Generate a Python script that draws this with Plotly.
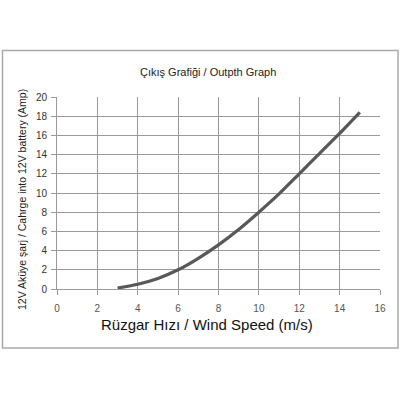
import plotly.graph_objects as go

wind_speed = [3, 4, 5, 6, 7, 8, 9, 10, 11, 12, 13, 14, 15]
current_amp = [0.1, 0.5, 1.1, 2.0, 3.2, 4.6, 6.2, 8.0, 9.9, 12.0, 14.1, 16.2, 18.4]

title_text = "Çıkış Grafiği / Outpth Graph"
x_title = "Rüzgar Hızı / Wind Speed (m/s)"
y_title = "12V Aküye şarj / Cahrge into 12V battery (Amp)"

font_family = "Liberation Sans, Arial, sans-serif"
grid = "#9a9a9a"

fig = go.Figure()
fig.add_trace(go.Scatter(
    x=wind_speed, y=current_amp, mode="lines",
    line=dict(color="#585858", width=3.2, shape="spline", smoothing=0.6),
    showlegend=False, hoverinfo="skip",
))

L, R, T, B = 57, 20, 97, 111
W = H = 400
pw, ph = W - L - R, H - T - B

def px(xp):
    return (xp - L) / pw

def py(yp):
    return (H - B - yp) / ph

fig.update_layout(
    width=W, height=H,
    margin=dict(l=L, r=R, t=T, b=B),
    paper_bgcolor="white", plot_bgcolor="white",
    font=dict(family=font_family, color="#333"),
    xaxis=dict(
        range=[0, 16], dtick=2, tick0=0, showgrid=True, gridcolor=grid, gridwidth=1,
        zeroline=False, showline=True, linecolor=grid, linewidth=1, mirror=False,
        ticks="outside", ticklen=5, tickcolor=grid,
        tickfont=dict(size=10, color="#555"), ticklabelstandoff=5,
    ),
    yaxis=dict(
        range=[0, 20], dtick=2, tick0=0, showgrid=True, gridcolor=grid, gridwidth=1,
        zeroline=False, showline=True, linecolor=grid, linewidth=1,
        ticks="outside", ticklen=5, tickcolor=grid,
        tickfont=dict(size=10, color="#333"), ticklabelstandoff=2,
    ),
    shapes=[
        dict(type="rect", xref="paper", yref="paper",
             x0=px(2.5), x1=px(398), y0=py(348), y1=py(50.5),
             line=dict(color="#aaaaaa", width=1.5), fillcolor="rgba(0,0,0,0)", layer="below"),
    ],
    annotations=[
        dict(text=title_text, xref="paper", yref="paper", x=px(208), y=py(72),
             showarrow=False, font=dict(size=11, color="#222"), xanchor="center", yanchor="middle"),
        dict(text=x_title, xref="paper", yref="paper", x=px(206.5), y=py(324.5),
             showarrow=False, font=dict(size=15, color="#111"), xanchor="center", yanchor="middle"),
        dict(text=y_title, xref="paper", yref="paper", x=px(22), y=py(200),
             showarrow=False, textangle=-90, font=dict(size=10.5, color="#222"),
             xanchor="center", yanchor="middle"),
    ],
)

fig.write_html("out.html", config={"displayModeBar": False},
               post_script="document.body.style.margin='0';document.body.style.padding='0';")
